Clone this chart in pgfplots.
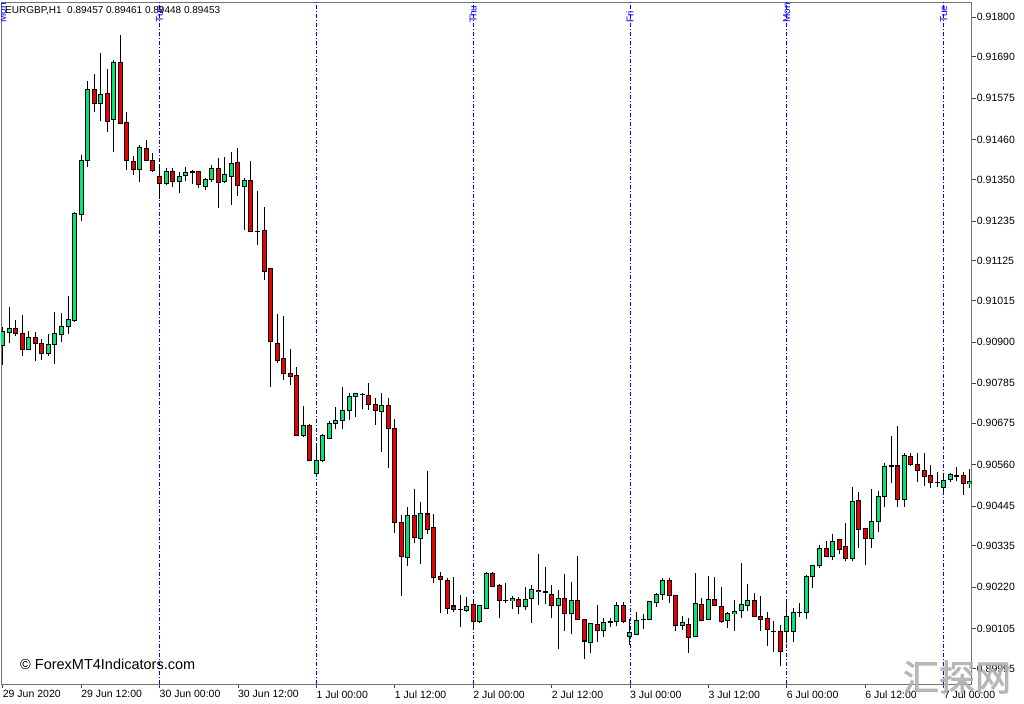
\documentclass[border=0pt]{standalone}
\usepackage{pgfplots}
\pgfplotsset{compat=1.18}
\usepackage{pgfplotstable}
\usepackage{fontspec}
\setmainfont{Liberation Sans}
\newfontfamily\cjk[FakeBold=2]{Noto Sans CJK SC}
\definecolor{bull}{RGB}{0,230,118}
\definecolor{bear}{RGB}{235,0,0}
\definecolor{sep}{RGB}{0,0,255}
\pgfplotstableread{
i o h l c
0 0.90889 0.90942 0.90836 0.90928
1 0.90925 0.90998 0.90896 0.90938
2 0.90938 0.90961 0.90916 0.90924
3 0.90924 0.90975 0.90861 0.90880
4 0.90878 0.90931 0.90878 0.90913
5 0.90913 0.90928 0.90848 0.90896
6 0.90896 0.90907 0.90850 0.90868
7 0.90868 0.90922 0.90861 0.90894
8 0.90894 0.90983 0.90838 0.90922
9 0.90921 0.90979 0.90900 0.90944
10 0.90942 0.91028 0.90922 0.90961
11 0.90959 0.91261 0.90956 0.91257
12 0.91254 0.91417 0.91235 0.91402
13 0.91402 0.91624 0.91386 0.91600
14 0.91600 0.91643 0.91538 0.91562
15 0.91562 0.91700 0.91513 0.91587
16 0.91587 0.91656 0.91483 0.91512
17 0.91515 0.91682 0.91426 0.91674
18 0.91675 0.91751 0.91506 0.91506
19 0.91508 0.91538 0.91377 0.91402
20 0.91400 0.91416 0.91363 0.91379
21 0.91377 0.91446 0.91342 0.91440
22 0.91437 0.91460 0.91400 0.91402
23 0.91402 0.91423 0.91372 0.91375
24 0.91358 0.91392 0.91296 0.91340
25 0.91340 0.91383 0.91335 0.91372
26 0.91372 0.91383 0.91330 0.91344
27 0.91344 0.91372 0.91312 0.91358
28 0.91360 0.91386 0.91346 0.91369
29 0.91371 0.91375 0.91337 0.91371
30 0.91372 0.91374 0.91326 0.91337
31 0.91330 0.91354 0.91321 0.91349
32 0.91349 0.91390 0.91344 0.91381
33 0.91381 0.91409 0.91272 0.91342
34 0.91344 0.91412 0.91340 0.91363
35 0.91358 0.91427 0.91280 0.91395
36 0.91397 0.91438 0.91305 0.91333
37 0.91330 0.91354 0.91210 0.91347
38 0.91347 0.91402 0.91207 0.91207
39 0.91206 0.91318 0.91169 0.91206
40 0.91210 0.91273 0.91072 0.91095
41 0.91102 0.91104 0.90776 0.90901
42 0.90896 0.90977 0.90841 0.90848
43 0.90853 0.90973 0.90794 0.90813
44 0.90813 0.90880 0.90780 0.90805
45 0.90807 0.90830 0.90640 0.90640
46 0.90640 0.90723 0.90637 0.90668
47 0.90667 0.90672 0.90571 0.90571
48 0.90536 0.90619 0.90531 0.90571
49 0.90571 0.90645 0.90568 0.90640
50 0.90633 0.90681 0.90631 0.90674
51 0.90674 0.90720 0.90658 0.90681
52 0.90681 0.90774 0.90658 0.90711
53 0.90711 0.90759 0.90683 0.90748
54 0.90748 0.90759 0.90693 0.90756
55 0.90755 0.90759 0.90713 0.90755
56 0.90751 0.90785 0.90711 0.90727
57 0.90727 0.90744 0.90670 0.90711
58 0.90707 0.90757 0.90596 0.90725
59 0.90725 0.90744 0.90551 0.90660
60 0.90660 0.90685 0.90371 0.90400
61 0.90400 0.90420 0.90195 0.90304
62 0.90303 0.90443 0.90279 0.90420
63 0.90420 0.90492 0.90343 0.90357
64 0.90355 0.90457 0.90284 0.90423
65 0.90423 0.90542 0.90367 0.90381
66 0.90385 0.90422 0.90231 0.90247
67 0.90251 0.90263 0.90149 0.90242
68 0.90240 0.90245 0.90145 0.90161
69 0.90168 0.90249 0.90152 0.90159
70 0.90159 0.90198 0.90110 0.90159
71 0.90155 0.90194 0.90152 0.90166
72 0.90172 0.90184 0.90103 0.90126
73 0.90124 0.90168 0.90122 0.90168
74 0.90161 0.90263 0.90161 0.90258
75 0.90258 0.90263 0.90220 0.90223
76 0.90224 0.90228 0.90134 0.90184
77 0.90184 0.90233 0.90175 0.90184
78 0.90182 0.90195 0.90161 0.90188
79 0.90187 0.90194 0.90147 0.90166
80 0.90166 0.90221 0.90157 0.90187
81 0.90189 0.90226 0.90122 0.90214
82 0.90212 0.90311 0.90170 0.90207
83 0.90207 0.90277 0.90173 0.90207
84 0.90200 0.90226 0.90136 0.90169
85 0.90169 0.90212 0.90050 0.90189
86 0.90189 0.90258 0.90098 0.90146
87 0.90147 0.90235 0.90090 0.90182
88 0.90182 0.90307 0.90131 0.90131
89 0.90131 0.90133 0.90020 0.90071
90 0.90067 0.90121 0.90037 0.90120
91 0.90117 0.90170 0.90069 0.90099
92 0.90099 0.90135 0.90083 0.90121
93 0.90124 0.90136 0.90109 0.90124
94 0.90124 0.90180 0.90113 0.90168
95 0.90168 0.90180 0.90122 0.90124
96 0.90083 0.90132 0.90060 0.90095
97 0.90090 0.90152 0.90090 0.90129
98 0.90131 0.90147 0.90103 0.90131
99 0.90131 0.90181 0.90129 0.90180
100 0.90178 0.90205 0.90166 0.90200
101 0.90200 0.90245 0.90186 0.90240
102 0.90240 0.90245 0.90175 0.90198
103 0.90198 0.90199 0.90099 0.90115
104 0.90115 0.90140 0.90101 0.90121
105 0.90118 0.90136 0.90039 0.90081
106 0.90083 0.90260 0.90082 0.90175
107 0.90172 0.90191 0.90126 0.90129
108 0.90131 0.90252 0.90129 0.90187
109 0.90187 0.90247 0.90167 0.90168
110 0.90166 0.90221 0.90121 0.90126
111 0.90129 0.90152 0.90106 0.90146
112 0.90146 0.90186 0.90098 0.90152
113 0.90155 0.90286 0.90134 0.90173
114 0.90169 0.90228 0.90155 0.90184
115 0.90182 0.90203 0.90139 0.90140
116 0.90140 0.90196 0.90099 0.90131
117 0.90132 0.90150 0.90057 0.90103
118 0.90098 0.90126 0.90041 0.90098
119 0.90098 0.90115 0.90001 0.90043
120 0.90097 0.90175 0.90065 0.90138
121 0.90097 0.90163 0.90068 0.90150
122 0.90150 0.90175 0.90138 0.90150
123 0.90150 0.90254 0.90131 0.90249
124 0.90249 0.90283 0.90217 0.90281
125 0.90279 0.90337 0.90272 0.90328
126 0.90328 0.90349 0.90304 0.90306
127 0.90306 0.90367 0.90295 0.90346
128 0.90351 0.90354 0.90312 0.90325
129 0.90332 0.90399 0.90292 0.90300
130 0.90300 0.90497 0.90292 0.90457
131 0.90460 0.90483 0.90329 0.90380
132 0.90383 0.90384 0.90283 0.90355
133 0.90355 0.90492 0.90330 0.90403
134 0.90403 0.90487 0.90374 0.90471
135 0.90471 0.90565 0.90441 0.90554
136 0.90556 0.90639 0.90508 0.90556
137 0.90556 0.90667 0.90443 0.90464
138 0.90464 0.90591 0.90443 0.90586
139 0.90582 0.90591 0.90556 0.90559
140 0.90559 0.90591 0.90511 0.90543
141 0.90543 0.90591 0.90500 0.90526
142 0.90529 0.90559 0.90496 0.90511
143 0.90511 0.90538 0.90499 0.90511
144 0.90496 0.90537 0.90485 0.90515
145 0.90519 0.90537 0.90512 0.90533
146 0.90529 0.90552 0.90515 0.90529
147 0.90529 0.90539 0.90477 0.90507
148 0.90507 0.90547 0.90495 0.90513
}\candles
\begin{document}
\begin{tikzpicture}
\useasboundingbox (0,0) rectangle (1024bp,704bp);
\fill[white] (0,0) rectangle (1024bp,704bp);
\begin{axis}[
  at={(1bp,19.7bp)}, anchor=south west,
  scale only axis, width=970.7bp, height=682.3bp,
  xmin=-0.26, xmax=148.3, ymin=0.89951, ymax=0.91842,
  scaled y ticks=false, scaled x ticks=false,
  axis line style={draw=black!55, line width=0.8bp},
  tick align=outside, major tick length=4bp,
  every tick/.style={black!75, line width=0.7bp},
  xtick pos=bottom, ytick pos=right,
  xtick={0,12,...,144},
  xticklabels={29 Jun 2020, 29 Jun 12:00, 30 Jun 00:00, 30 Jun 12:00, 1 Jul 00:00, 1 Jul 12:00, 2 Jul 00:00, 2 Jul 12:00, 3 Jul 00:00, 3 Jul 12:00, 6 Jul 00:00, 6 Jul 12:00, 7 Jul 00:00},
  ytick={0.89995,0.90105,0.90220,0.90335,0.90445,0.90560,0.90675,0.90785,0.90900,0.91015,0.91125,0.91235,0.91350,0.91460,0.91575,0.91690,0.91800},
  yticklabels={0.89995,0.90105,0.90220,0.90335,0.90445,0.90560,0.90675,0.90785,0.90900,0.91015,0.91125,0.91235,0.91350,0.91460,0.91575,0.91690,0.91800},
  tick label style={font=\fontsize{10.5bp}{12bp}\selectfont, inner sep=0pt, text=black},
  xticklabel style={anchor=north west, yshift=-2bp},
  yticklabel style={anchor=west, xshift=1bp},
  extra x ticks={24,48,72,96,120,144},
  extra x tick labels={},
  extra x tick style={grid=major, major tick length=0pt},
  major grid style={sep, line width=0.8bp, dash pattern=on 4bp off 2bp on 1bp off 2bp},
]
% wicks
\addplot[draw=none, mark=none, forget plot,
  error bars/.cd, y dir=plus, y explicit, error mark=none,
  error bar style={draw=black, line width=1bp}]
  table[x=i, y=l, y error plus expr={\thisrow{h}-\thisrow{l}}]{\candles};
% body outlines
\addplot[draw=none, mark=none, forget plot,
  error bars/.cd, y dir=both, y explicit, error mark=none,
  error bar style={draw=black, line width=5bp}]
  table[x=i, y expr={0.5*(\thisrow{o}+\thisrow{c})}, y error expr={0.5*abs(\thisrow{c}-\thisrow{o})+0.000014}]{\candles};
% bull bodies
\addplot[draw=none, mark=none, forget plot,
  error bars/.cd, y dir=both, y explicit, error mark=none,
  error bar style={draw=bull, line width=3bp}]
  table[x=i, y expr={0.5*(\thisrow{o}+\thisrow{c})}, y error expr={(\thisrow{c}>\thisrow{o})*max(0.5*abs(\thisrow{c}-\thisrow{o})-0.000014,0)}]{\candles};
% bear bodies
\addplot[draw=none, mark=none, forget plot,
  error bars/.cd, y dir=both, y explicit, error mark=none,
  error bar style={draw=bear, line width=3bp}]
  table[x=i, y expr={0.5*(\thisrow{o}+\thisrow{c})}, y error expr={(\thisrow{c}<\thisrow{o})*max(0.5*abs(\thisrow{c}-\thisrow{o})-0.000014,0)}]{\candles};
% day labels (read bottom to top, ending near the top edge)
\node[rotate=90, anchor=west, inner sep=0pt, text=sep, font=\fontsize{10bp}{12bp}\selectfont] at (axis cs:0,0.91784) {Mon};
\node[rotate=90, anchor=west, inner sep=0pt, text=sep, font=\fontsize{10bp}{12bp}\selectfont] at (axis cs:24,0.91784) {Tue};
\node[rotate=90, anchor=west, inner sep=0pt, text=sep, font=\fontsize{10bp}{12bp}\selectfont] at (axis cs:72,0.91784) {Thu};
\node[rotate=90, anchor=west, inner sep=0pt, text=sep, font=\fontsize{10bp}{12bp}\selectfont] at (axis cs:96,0.91784) {Fri};
\node[rotate=90, anchor=west, inner sep=0pt, text=sep, font=\fontsize{10bp}{12bp}\selectfont] at (axis cs:120,0.91784) {Mon};
\node[rotate=90, anchor=west, inner sep=0pt, text=sep, font=\fontsize{10bp}{12bp}\selectfont] at (axis cs:144,0.91784) {Tue};
\end{axis}
\node[anchor=base west, inner sep=0pt, font=\fontsize{10bp}{12bp}\selectfont] at (5bp,690bp) {EURGBP,H1\ \ 0.89457 0.89461 0.89448 0.89453};
\node[anchor=base west, inner sep=0pt, font=\fontsize{14.5bp}{17bp}\selectfont] at (20bp,35bp) {© ForexMT4Indicators.com};
\node[anchor=center, inner sep=0pt, text=black!30, opacity=0.9, font=\cjk\fontsize{36bp}{40bp}\selectfont] at (957bp,27bp) {汇探网};
\end{tikzpicture}
\end{document}
